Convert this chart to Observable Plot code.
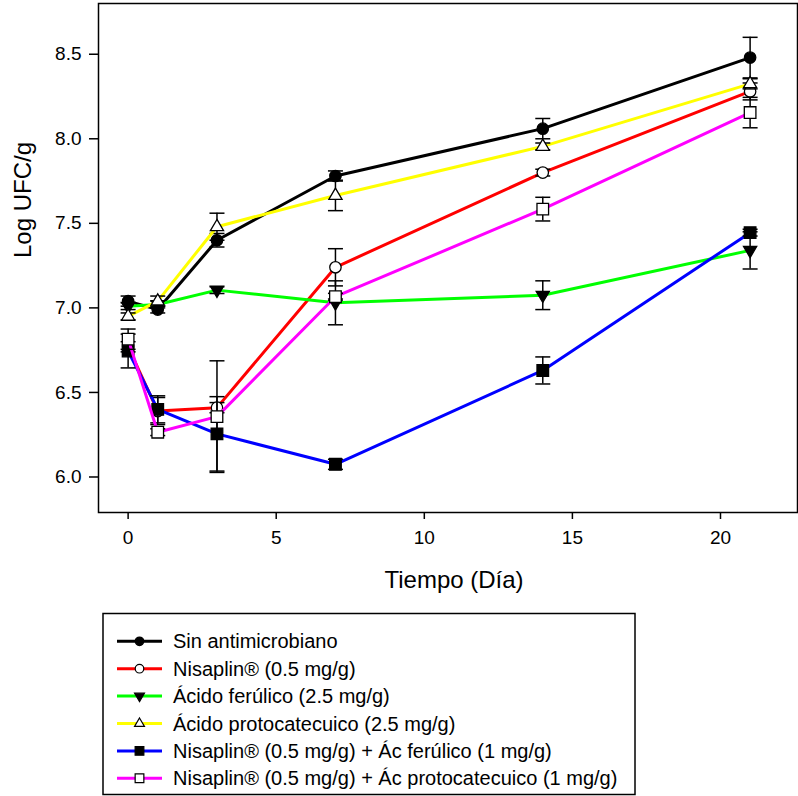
<!DOCTYPE html>
<html>
<head>
<meta charset="utf-8">
<script src="https://cdn.jsdelivr.net/npm/d3@7"></script>
<script src="https://cdn.jsdelivr.net/npm/@observablehq/plot@0.6"></script>
<style>
  html, body { margin: 0; padding: 0; background: #fff; }
  body { width: 798px; height: 796px; overflow: hidden; font-family: "Liberation Sans", Arial, sans-serif; }
  #chart svg, #legend svg { display: block; }
</style>
</head>
<body>
<div id="chart"></div>
<div id="legend"></div>
<script>
// ---- data ----
const days = [0, 1, 3, 7, 14, 21];
const seriesNames = [
  "Sin antimicrobiano",
  "Nisaplin® (0.5 mg/g)",
  "Ácido ferúlico (2.5 mg/g)",
  "Ácido protocatecuico (2.5 mg/g)",
  "Nisaplin® (0.5 mg/g) + Ác ferúlico (1 mg/g)",
  "Nisaplin® (0.5 mg/g) + Ác protocatecuico (1 mg/g)"
];
const seriesColors = ["#000000", "#ff0000", "#00ff00", "#ffff00", "#0000ff", "#ff00ff"];
const seriesSymbols = ["circle", "circle", "triDown", "triUp", "square", "square"];
const seriesFilled = [true, false, true, false, true, false];

const sinValues = [7.04, 6.99, 7.40, 7.78, 8.06, 8.48];
const sinErrors = [0.03, 0.02, 0.04, 0.03, 0.06, 0.12];
const nisValues = [6.77, 6.39, 6.41, 7.24, 7.80, 8.28];
const nisErrors = [0.03, 0.08, 0.03, 0.11, 0.02, 0.05];
const ferValues = [7.01, 7.02, 7.105, 7.03, 7.075, 7.34];
const ferErrors = [0.02, 0.02, 0.02, 0.13, 0.085, 0.11];
const proValues = [6.95, 7.04, 7.48, 7.665, 7.955, 8.325];
const proErrors = [0.02, 0.03, 0.08, 0.09, 0.02, 0.03];
const nisFerValues = [6.745, 6.40, 6.255, 6.075, 6.63, 7.445];
const nisFerErrors = [0.10, 0.08, 0.22, 0.03, 0.08, 0.02];
const nisProValues = [6.815, 6.265, 6.357, 7.066, 7.584, 8.155];
const nisProErrors = [0.06, 0.02, 0.33, 0.02, 0.07, 0.09];

const xTicks = [0, 5, 10, 15, 20];
const yTicks = [6.0, 6.5, 7.0, 7.5, 8.0, 8.5];
const xTitle = "Tiempo (Día)";
const yTitle = "Log UFC/g";

const allValues = [sinValues, nisValues, ferValues, proValues, nisFerValues, nisProValues];
const allErrors = [sinErrors, nisErrors, ferErrors, proErrors, nisFerErrors, nisProErrors];

// ---- symbols ----
function makeSymbol(kind, k) {
  if (kind === "circle") return {draw(c) { const r = 5.7 * k; c.moveTo(r, 0); c.arc(0, 0, r, 0, 2 * Math.PI); c.closePath(); }};
  if (kind === "square") return {draw(c) { const h = 5.8 * k; c.rect(-h, -h, 2 * h, 2 * h); }};
  if (kind === "triUp") return {draw(c) { c.moveTo(0, -7.3 * k); c.lineTo(6.6 * k, 3.9 * k); c.lineTo(-6.6 * k, 3.9 * k); c.closePath(); }};
  if (kind === "triDown") return {draw(c) { c.moveTo(0, 7.3 * k); c.lineTo(6.6 * k, -3.9 * k); c.lineTo(-6.6 * k, -3.9 * k); c.closePath(); }};
}
const capSymbol = {draw(c) { c.moveTo(-7.5, 0); c.lineTo(7.5, 0); }};

// ---- build rows ----
const rows = [];
seriesNames.forEach((name, i) => {
  days.forEach((d, j) => rows.push({series: name, idx: i, day: d, value: allValues[i][j], err: allErrors[i][j]}));
});

const marks = [];
seriesNames.forEach((name, i) => {
  const data = rows.filter(r => r.idx === i);
  marks.push(Plot.line(data, {x: "day", y: "value", stroke: seriesColors[i], strokeWidth: 3}));
  marks.push(Plot.ruleX(data, {x: "day", y1: d => d.value - d.err, y2: d => d.value + d.err, stroke: "black", strokeWidth: 1.5}));
  marks.push(Plot.dot(data, {x: "day", y: d => d.value + d.err, symbol: capSymbol, r: 5, fill: "none", stroke: "black", strokeWidth: 1.5}));
  marks.push(Plot.dot(data, {x: "day", y: d => d.value - d.err, symbol: capSymbol, r: 5, fill: "none", stroke: "black", strokeWidth: 1.5}));
  marks.push(Plot.dot(data, {x: "day", y: "value", symbol: makeSymbol(seriesSymbols[i], 1), r: 5,
    fill: seriesFilled[i] ? "black" : "white", stroke: "black", strokeWidth: 1.3}));
});

const chart = Plot.plot({
  width: 798,
  height: 610,
  marginLeft: 98,
  marginRight: 1,
  marginTop: 3,
  marginBottom: 98,
  style: {fontFamily: "'Liberation Sans', Arial, sans-serif", fontSize: "19px", color: "black", background: "white"},
  x: {domain: [-1, 22.6]},
  y: {domain: [5.79, 8.8]},
  marks: [
    Plot.axisX({ticks: xTicks, tickSize: 7, tickPadding: 11, tickFormat: d => String(d), label: null, strokeWidth: 1.5, fontSize: 19}),
    Plot.axisY({ticks: yTicks, tickSize: 9, tickPadding: 8, tickFormat: d => d.toFixed(1), label: null, strokeWidth: 1.5, fontSize: 19}),
    ...marks,
    Plot.frame({stroke: "black", strokeWidth: 1.5}),
    Plot.text([xTitle], {frameAnchor: "bottom", text: d => d, dy: 75, dx: 6, fontSize: 24, fill: "black"}),
    Plot.text([yTitle], {frameAnchor: "left", text: d => d, dx: -75, rotate: -90, fontSize: 24, fill: "black"})
  ]
});
document.getElementById("chart").appendChild(chart);

// ---- legend ----
const lg = d3.create("svg").attr("width", 798).attr("height", 186)
  .style("font-family", "'Liberation Sans', Arial, sans-serif");
lg.append("rect").attr("x", 103).attr("y", 3.5).attr("width", 532).attr("height", 181)
  .attr("fill", "white").attr("stroke", "black").attr("stroke-width", 1.5);
seriesNames.forEach((name, i) => {
  const cy = 31.3 + i * 27.4;
  lg.append("line").attr("x1", 117).attr("x2", 162).attr("y1", cy).attr("y2", cy)
    .attr("stroke", seriesColors[i]).attr("stroke-width", 3);
  lg.append("path").attr("d", d3.symbol(makeSymbol(seriesSymbols[i], 0.75))())
    .attr("transform", `translate(139.5,${cy})`)
    .attr("fill", seriesFilled[i] ? "black" : "white").attr("stroke", "black").attr("stroke-width", 1.2);
  lg.append("text").attr("x", 173).attr("y", cy).attr("dy", "0.35em")
    .attr("font-size", 20).attr("fill", "black").text(name);
});
document.getElementById("legend").appendChild(lg.node());
</script>
</body>
</html>
